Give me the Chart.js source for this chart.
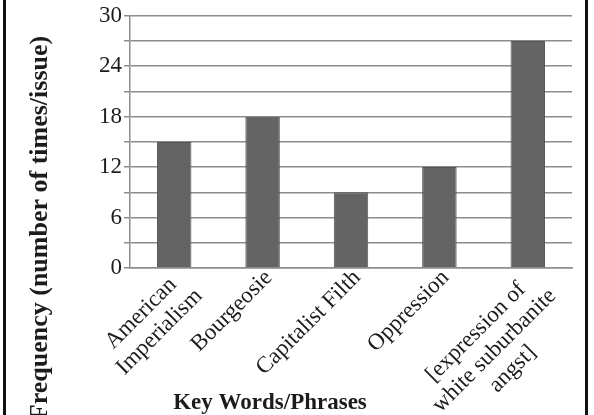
<!DOCTYPE html>
<html>
<head>
<meta charset="utf-8">
<script src="https://cdn.jsdelivr.net/npm/chart.js@4.4.1/dist/chart.umd.min.js"></script>
<style>
  html, body { margin: 0; padding: 0; background: #fff; }
  #wrap { position: relative; width: 594px; height: 415px; overflow: hidden; }
  canvas { position: absolute; left: 0; top: 0; }
  .edge { position: absolute; top: 0; width: 3px; height: 415px; background: #111; }
</style>
</head>
<body>
<div id="wrap">
  <canvas id="c" width="594" height="415"></canvas>
  <div class="edge" style="left:3px"></div>
  <div class="edge" style="left:585px"></div>
</div>
<script>
// ---- data ----
const categories = [
  ['American', 'Imperialism'],
  ['Bourgeosie'],
  ['Capitalist Filth'],
  ['Oppression'],
  ['[expression of', 'white suburbanite', 'angst]']
];
const frequencies = [15, 18, 9, 12, 27];
const yTitle = 'Frequency (number of times/issue)';
const xTitle = 'Key Words/Phrases';
const yMin = 0, yMax = 30, yStep = 3, yLabelStep = 6;

// ---- style ----
const FONT = "'Liberation Serif', 'Times New Roman', serif";
const TEXT = '#1c1c1c';
const GRID = '#8c8c8c';

const customText = {
  id: 'customText',
  afterDraw(chart) {
    const ctx = chart.ctx;
    const xs = chart.scales.x;
    const axisY = chart.chartArea.bottom;
    const LH = 26;
    ctx.save();
    ctx.fillStyle = TEXT;
    ctx.font = '23px ' + FONT;
    chart.data.labels.forEach((lab, i) => {
      const lines = Array.isArray(lab) ? lab : [lab];
      const n = lines.length;
      const H = n * LH;
      const x = xs.getPixelForTick(i);
      const maxW = Math.max(...lines.map(l => ctx.measureText(l).width));
      const cx = x - 3 + (H / 2) * Math.SQRT1_2;
      const cy = axisY - 3 + (H / 2) * Math.SQRT1_2;
      ctx.save();
      ctx.translate(cx, cy);
      ctx.rotate(-Math.PI / 4);
      ctx.textAlign = 'center';
      ctx.textBaseline = 'middle';
      lines.forEach((l, j) => ctx.fillText(l, -maxW / 2, (j - (n - 1) / 2) * LH));
      ctx.restore();
    });
    // x title
    ctx.font = 'bold 23px ' + FONT;
    ctx.textAlign = 'center';
    ctx.textBaseline = 'alphabetic';
    ctx.fillText(xTitle, 270, 409);
    // y title
    ctx.save();
    ctx.font = 'bold 26px ' + FONT;
    ctx.translate(40, 228);
    ctx.rotate(-Math.PI / 2);
    ctx.textAlign = 'center';
    ctx.textBaseline = 'middle';
    ctx.fillText(yTitle, 0, 0);
    ctx.restore();
    ctx.restore();
  }
};

new Chart(document.getElementById('c'), {
  type: 'bar',
  data: {
    labels: categories,
    datasets: [{
      data: frequencies,
      backgroundColor: '#646464',
      borderColor: '#555555',
      borderWidth: 1,
      barPercentage: 0.39,
      categoryPercentage: 1.0
    }]
  },
  options: {
    responsive: false,
    animation: false,
    devicePixelRatio: 1,
    layout: { padding: { top: 14, right: 22, left: 0, bottom: 0 } },
    plugins: { legend: { display: false }, tooltip: { enabled: false }, title: { display: false } },
    scales: {
      x: {
        grid: { display: false, drawTicks: false },
        border: { display: true, color: GRID, width: 1.5 },
        ticks: { display: false },
        afterFit(s) { s.height = 415 - 268; }
      },
      y: {
        min: yMin, max: yMax,
        ticks: {
          stepSize: yStep,
          autoSkip: false,
          padding: 2,
          color: TEXT,
          font: { family: FONT, size: 23 },
          callback: v => (v % yLabelStep === 0 ? String(v) : '')
        },
        grid: { color: GRID, lineWidth: 1.5, tickLength: 6 },
        border: { display: true, color: GRID, width: 1.5 },
        afterFit(s) { s.width = 130; }
      }
    }
  },
  plugins: [customText]
});
</script>
</body>
</html>
